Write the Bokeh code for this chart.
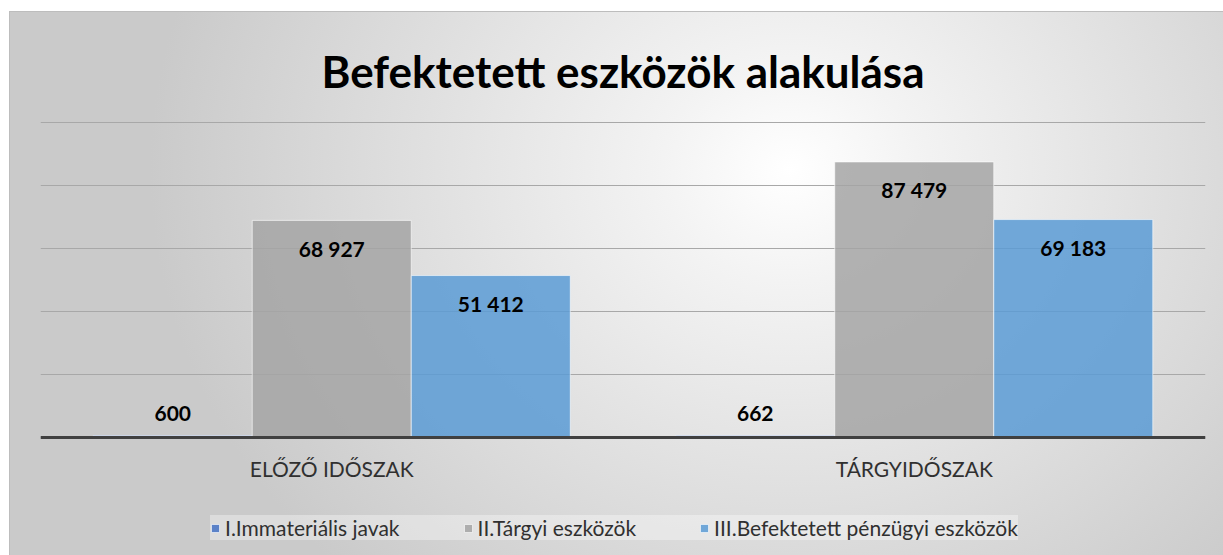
from bokeh.plotting import figure
from bokeh.models import FactorRange, Range1d, FixedTicker, Legend, LegendItem, ColumnDataSource, Span
from bokeh.transform import dodge
from bokeh.core.properties import value
from bokeh.embed import file_html
from bokeh.resources import INLINE

# ---- data ----
periods = ["ELŐZŐ IDŐSZAK", "TÁRGYIDŐSZAK"]
series_names = ["I.Immateriális javak", "II.Tárgyi eszközök", "III.Befektetett pénzügyi eszközök"]
immaterial = [600, 662]
tangible = [68927, 87479]
financial = [51412, 69183]
y_ticks = [0, 20000, 40000, 60000, 80000, 100000]
title_text = "Befektetett eszközök alakulása"

series_values = [immaterial, tangible, financial]
colors = ["#4472C4", "#A5A5A5", "#5B9BD5"]
bar_w = 0.273
offsets = [-bar_w, 0.0, bar_w]
FONT = "Lato"

# frame spans from the top gridline down to the page bottom; value 0 sits 118 px above the bottom
px_per_unit = 315 / 100000
y_start = -118 / px_per_unit
y_end = 100000 + 1 / px_per_unit

p = figure(
    x_range=FactorRange(*periods),
    y_range=Range1d(y_start, y_end),
    width=1223, height=555,
    x_axis_location=None, y_axis_location=None,
    output_backend="svg", toolbar_location=None,
    min_border_left=40, min_border_right=18,
    min_border_top=121, min_border_bottom=0,
    background_fill_color=None, border_fill_color=None,
)
p.styles = {
    "background": (
        "linear-gradient(#bdbdbd,#bdbdbd) 9px 11px / 1214px 1px no-repeat, "
        "linear-gradient(#bdbdbd,#bdbdbd) 9px 11px / 1px 544px no-repeat, "
        "radial-gradient(ellipse 640px 560px at 781px 159px, #ffffff 0%, #f3f3f3 20%, #cacaca 100%) 9px 11px / 1214px 544px no-repeat, "
        "#ffffff"
    ),
}
p.outline_line_color = None

p.ygrid.ticker = FixedTicker(ticks=y_ticks)
p.ygrid.grid_line_color = "#a8a8a8"
p.ygrid.grid_line_width = 1
p.xgrid.visible = False

renderers = []
for name, vals, col, off in zip(series_names, series_values, colors, offsets):
    labels = [f"{v:,}".replace(",", " ") for v in vals]
    yoff = [-22 if v < 5000 else 28 for v in vals]
    src = ColumnDataSource(dict(x=periods, y=vals, label=labels, yoff=yoff))
    r = p.vbar(x=dodge("x", off, range=p.x_range), top="y", width=bar_w, source=src,
               fill_color=col, fill_alpha=0.85, line_color="white", line_alpha=0.6, line_width=1)
    renderers.append(r)
    p.text(x=dodge("x", off, range=p.x_range), y="y", text="label", y_offset="yoff", source=src,
           text_align="center", text_baseline="middle", text_font=value(FONT),
           text_font_style="bold", text_font_size="21px", text_color="#000000")

# category axis: baseline + category labels
p.add_layout(Span(location=0, dimension="width", line_color="#404040", line_width=3))
p.text(x=periods, y=[0] * len(periods), text=periods, y_offset=31,
       text_align="center", text_baseline="middle", text_font=value(FONT),
       text_font_size="21px", text_color="#303030")

p.title.text = title_text
p.title.align = "center"
p.title.text_font = FONT
p.title.text_font_size = "44px"
p.title.text_font_style = "bold"
p.title.text_color = "#000000"
p.title.standoff = 49

legend = Legend(
    items=[LegendItem(label=n, renderers=[r]) for n, r in zip(series_names, renderers)],
    orientation="horizontal", location=(170, 15),
    glyph_width=10, glyph_height=10, label_standoff=5, spacing=63,
    padding=8, margin=0, label_height=23,
    background_fill_color="white", background_fill_alpha=0.35,
    border_line_color=None,
    label_text_font=FONT, label_text_font_size="21px", label_text_color="#303030",
)
p.add_layout(legend, "center")

open("out.html", "w").write(file_html(p, INLINE))
